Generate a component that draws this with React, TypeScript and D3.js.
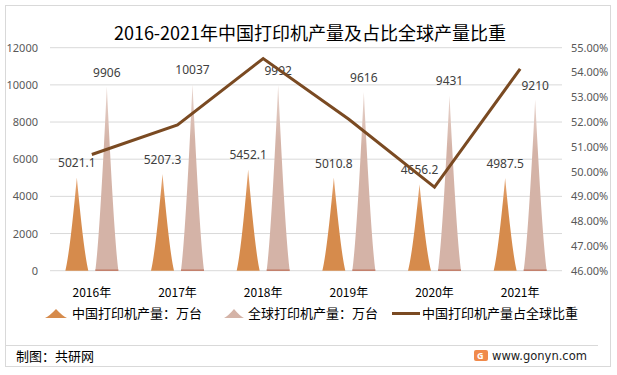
import React from "react";
import * as d3 from "d3";

const years = ["2016年", "2017年", "2018年", "2019年", "2020年", "2021年"];
const chinaOutput = [5021.1, 5207.3, 5452.1, 5010.8, 4656.2, 4987.5];
const globalOutput = [9906, 10037, 9992, 9616, 9431, 9210];
const chinaShare = [50.69, 51.88, 54.56, 52.11, 49.37, 54.15];
const leftTicks = [0, 2000, 4000, 6000, 8000, 10000, 12000];
const rightTicks = [46, 47, 48, 49, 50, 51, 52, 53, 54, 55];
const title = "2016-2021年中国打印机产量及占比全球产量比重";
const legendLabels = ["中国打印机产量：万台", "全球打印机产量：万台", "中国打印机产量占全球比重"];

const W = 617;
const H = 375;
const FONT = "'Noto Sans', 'Noto Sans CJK SC', sans-serif";
const CJK = "'Noto Sans CJK SC', sans-serif";

const CHINA_COLOR = "#D68B4C";
const GLOBAL_COLOR = "#D4B3A7";
const LINE_COLOR = "#7A4A22";

function spike(cx: number, w: number, y0: number, yTop: number) {
  const h = y0 - yTop;
  const p = d3.path();
  p.moveTo(cx - w / 2, y0);
  p.quadraticCurveTo(cx - w * 0.3, y0 - h * 0.2, cx, yTop);
  p.quadraticCurveTo(cx + w * 0.3, y0 - h * 0.2, cx + w / 2, y0);
  p.closePath();
  return p.toString();
}

export default function App() {
  const x = d3.scaleBand<string>().domain(years).range([49, 563]).padding(0);
  const y = d3.scaleLinear().domain([0, 12000]).range([270.7, 47.7]);
  const y2 = d3.scaleLinear().domain([46, 55]).range([270.7, 47.7]);
  const cx = (i: number) => (x(years[i]) as number) + x.bandwidth() / 2;
  const off = 15;
  const sw = 23;

  const line = d3
    .line<number>()
    .x((_, i) => cx(i))
    .y((d) => y2(d));

  return (
    <svg
      width={W}
      height={H}
      style={{ position: "absolute", left: 0, top: 0, background: "#fff" }}
      fontFamily={FONT}
    >
      <defs>
        <linearGradient id="gc" x1="0" y1="0" x2="0" y2="1">
          <stop offset="0" stopColor="#E6A878" />
          <stop offset="0.3" stopColor={CHINA_COLOR} />
          <stop offset="1" stopColor={CHINA_COLOR} />
        </linearGradient>
        <linearGradient id="gg" x1="0" y1="0" x2="0" y2="1">
          <stop offset="0" stopColor="#E8D5CE" />
          <stop offset="0.3" stopColor={GLOBAL_COLOR} />
          <stop offset="1" stopColor={GLOBAL_COLOR} />
        </linearGradient>
      </defs>
      <rect x={0} y={0} width={W} height={H} fill="#fff" />
      <rect x={5.5} y={5.5} width={605} height={361} fill="none" stroke="#D9D9D9" strokeWidth={1} />
      <text x={310} y={40} textAnchor="middle" fontSize={18} fill="#000" fontFamily={CJK}>
        {title}
      </text>

      {leftTicks.map((t) => (
        <g key={"l" + t}>
          <line x1={50} x2={562} y1={y(t)} y2={y(t)} stroke="#D9D9D9" strokeWidth={1} />
          <text x={38} y={y(t) + 4} textAnchor="end" fontSize={11} fill="#595959">
            {t}
          </text>
        </g>
      ))}
      {rightTicks.map((t) => (
        <text key={"r" + t} x={571} y={y2(t) + 4} textAnchor="start" fontSize={11} fill="#595959">
          {t.toFixed(2) + "%"}
        </text>
      ))}

      {years.map((yr, i) => (
        <g key={yr}>
          <path d={spike(cx(i) - off, sw, y(0), y(chinaOutput[i]))} fill="url(#gc)" />
          <path d={spike(cx(i) + off, sw, y(0), y(globalOutput[i]))} fill="url(#gg)" />
          <line
            x1={cx(i) + off - sw / 2}
            x2={cx(i) + off + sw / 2}
            y1={y(0) - 0.5}
            y2={y(0) - 0.5}
            stroke="#C27E6A"
            strokeWidth={1.5}
          />
          <text x={cx(i) - off} y={y(chinaOutput[i]) - 10} textAnchor="middle" fontSize={12} fill="#404040">
            {chinaOutput[i]}
          </text>
          <text x={cx(i) + off} y={y(globalOutput[i]) - 10} textAnchor="middle" fontSize={12} fill="#404040">
            {globalOutput[i]}
          </text>
          <text x={cx(i)} y={297} textAnchor="middle" fontSize={12} fill="#000" fontFamily={CJK}>
            {yr}
          </text>
        </g>
      ))}

      <path d={line(chinaShare) as string} fill="none" stroke={LINE_COLOR} strokeWidth={3} strokeLinejoin="miter" />

      {/* legend */}
      <path d={spike(56, 22, 318, 309)} fill={CHINA_COLOR} />
      <text x={72} y={318} fontSize={13} fill="#000" fontFamily={CJK}>
        {legendLabels[0]}
      </text>
      <path d={spike(234, 20, 318, 309)} fill={GLOBAL_COLOR} />
      <text x={248} y={318} fontSize={13} fill="#000" fontFamily={CJK}>
        {legendLabels[1]}
      </text>
      <line x1={392} x2={420} y1={313.5} y2={313.5} stroke={LINE_COLOR} strokeWidth={3} />
      <text x={422} y={318} fontSize={13} fill="#000" fontFamily={CJK}>
        {legendLabels[2]}
      </text>

      {/* footer */}
      <line x1={5} x2={598} y1={345.5} y2={345.5} stroke="#D9D9D9" strokeWidth={1} />
      <text x={16} y={361} fontSize={13} fill="#000" fontFamily={CJK}>
        制图：共研网
      </text>
      <rect x={474} y={350} width={14} height={11} rx={2} fill="#F08A4B" />
      <text x={477} y={359} fontSize={9} fill="#fff" fontWeight="bold">
        G
      </text>
      <text x={492} y={359.5} fontSize={12.5} fill="#222" fontFamily="'DejaVu Sans', sans-serif" textLength={95} lengthAdjust="spacingAndGlyphs">
        www.gonyn.com
      </text>
    </svg>
  );
}
